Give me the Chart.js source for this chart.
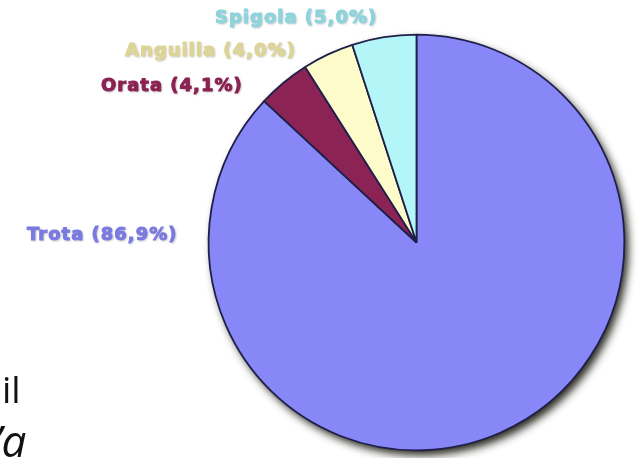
<!DOCTYPE html>
<html>
<head>
<meta charset="utf-8">
<script src="https://cdn.jsdelivr.net/npm/chart.js@4/dist/chart.umd.min.js"></script>
<style>
  html, body { margin: 0; padding: 0; background: #ffffff; }
  #wrap { width: 637px; height: 458px; position: relative; overflow: hidden; }
  canvas { display: block; }
</style>
</head>
<body>
<div id="wrap"><canvas id="c" width="637" height="458"></canvas></div>
<script>
// Aquaculture production share by species (percent), clockwise from 12 o'clock
const categories = ['Trota', 'Orata', 'Anguilla', 'Spigola'];
const shares = [86.9, 4.1, 4.0, 5.0];

// Slice fills and matching label inks
const sliceColors = ['#8787f8', '#8b2455', '#fcfbc9', '#b4f5f8'];
const labelColors = ['#7a7ae2', '#8a2252', '#ddd596', '#8ed4dd'];

// Label anchors: left edge and vertical centre, as offsets from the pie centre
const labelOffsets = [
  [-389.5, -7.5],
  [-315.5, -156.5],
  [-291.5, -191.5],
  [-201.5, -224.5]
];

const fmtPct = v => v.toFixed(1).replace('.', ',') + '%';

// Soft drop shadow behind the pie
const pieShadow = {
  id: 'pieShadow',
  beforeDatasetsDraw(chart) {
    const arc = chart.getDatasetMeta(0).data[0];
    if (!arc) return;
    const { x, y, outerRadius } = arc.getProps(['x', 'y', 'outerRadius'], true);
    const ctx = chart.ctx;
    ctx.save();
    ctx.shadowColor = 'rgba(15,15,5,0.9)';
    ctx.shadowBlur = 8;
    ctx.shadowOffsetX = 4;
    ctx.shadowOffsetY = 5;
    ctx.fillStyle = sliceColors[0];
    ctx.beginPath();
    ctx.arc(x, y, outerRadius, 0, Math.PI * 2);
    ctx.fill();
    ctx.restore();
  }
};

// Outside labels "Name (xx,x%)", heavy and slightly soft
const sliceLabels = {
  id: 'sliceLabels',
  afterDatasetsDraw(chart) {
    const arc = chart.getDatasetMeta(0).data[0];
    if (!arc) return;
    const { x, y } = arc.getProps(['x', 'y'], true);
    const ctx = chart.ctx;
    ctx.save();
    ctx.font = 'bold 18px "DejaVu Sans"';
    ctx.letterSpacing = '1px';
    ctx.textAlign = 'left';
    ctx.textBaseline = 'middle';
    ctx.lineJoin = 'round';
    ctx.lineWidth = 1;
    ctx.filter = 'blur(0.7px)';
    categories.forEach((name, i) => {
      const [dx, dy] = labelOffsets[i];
      const text = name + ' (' + fmtPct(shares[i]) + ')';
      ctx.shadowColor = 'rgba(90,90,90,0.45)';
      ctx.shadowBlur = 2;
      ctx.shadowOffsetX = 1;
      ctx.shadowOffsetY = 1;
      ctx.fillStyle = labelColors[i];
      ctx.strokeStyle = labelColors[i];
      ctx.fillText(text, x + dx, y + dy);
      ctx.shadowColor = 'transparent';
      ctx.strokeText(text, x + dx, y + dy);
    });
    ctx.restore();
  }
};

// Fragments of the surrounding slide text at the lower left
const slideText = {
  id: 'slideText',
  afterDraw(chart) {
    const ctx = chart.ctx;
    ctx.save();
    ctx.fillStyle = '#111111';
    ctx.textBaseline = 'alphabetic';
    ctx.font = '37px "Open Sans"';
    ctx.fillText('il', 2, 403);
    ctx.font = 'italic 44px "Open Sans"';
    ctx.fillText('\u2019a', -6, 457);
    ctx.restore();
  }
};

new Chart(document.getElementById('c'), {
  type: 'pie',
  data: {
    labels: categories,
    datasets: [{
      data: shares,
      backgroundColor: sliceColors,
      borderColor: '#1f1f4a',
      borderWidth: 1.8
    }]
  },
  options: {
    responsive: false,
    animation: false,
    layout: { padding: { left: 207.75, top: 33.75, right: 11.75, bottom: 6.75 } },
    plugins: {
      legend: { display: false },
      tooltip: { enabled: false }
    }
  },
  plugins: [pieShadow, sliceLabels, slideText]
});
</script>
</body>
</html>
